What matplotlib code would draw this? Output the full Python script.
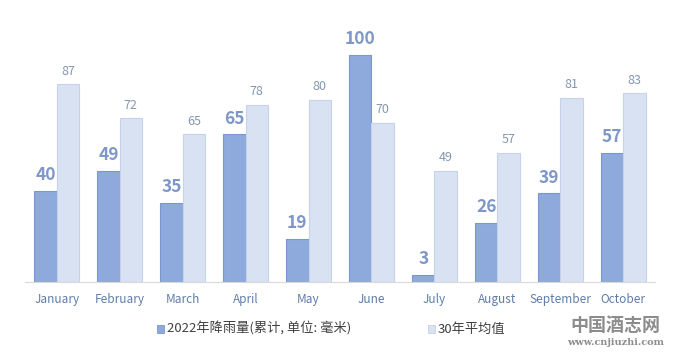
import matplotlib.pyplot as plt
import numpy as np

plt.rcParams['font.family'] = ['Noto Sans CJK SC', 'DejaVu Sans']

# Monthly rainfall, 2022 vs 30-year average (mm)
months = ['January', 'February', 'March', 'April', 'May', 'June',
          'July', 'August', 'September', 'October']
rain_2022 = [40, 49, 35, 65, 19, 100, 3, 26, 39, 57]
rain_avg = [87, 72, 65, 78, 80, 70, 49, 57, 81, 83]

dark = '#8EA9DB'
dark_edge = '#7B97CD'
light = '#D9E2F3'
light_edge = '#C5D2EA'

fig = plt.figure(figsize=(6.8, 3.53), dpi=100)
ax = fig.add_axes([0.037, 0.201, 0.926, 0.708])

x = np.arange(len(months))
w = 0.355
ax.bar(x - w/2, rain_2022, w, color=dark, edgecolor=dark_edge, linewidth=0.8)
ax.bar(x + w/2, rain_avg, w, color=light, edgecolor=light_edge, linewidth=0.8)

for xi, v in zip(x, rain_2022):
    ax.text(xi - w/2, v + 3, str(v), ha='center', va='bottom',
            fontsize=12.5, fontweight='bold', color='#7F97C7')
for xi, v in zip(x, rain_avg):
    ax.text(xi + w/2, v + 3, str(v), ha='center', va='bottom',
            fontsize=9, color='#8497B0')

ax.set_xlim(-0.5, len(months) - 0.5)
ax.set_ylim(0, 110)
ax.set_xticks(x)
ax.set_xticklabels(months, fontsize=8.5, color='#5F7CA8')
ax.tick_params(axis='x', length=0, pad=8)
ax.set_yticks([])
for s in ['top', 'right', 'left']:
    ax.spines[s].set_visible(False)
ax.spines['bottom'].set_color('#D9D9D9')

# legend drawn by hand to match spacing
fig.text(0.245, 0.068, '2022年降雨量(累计, 单位: 毫米)', fontsize=9.5,
         color='#404040', va='center', ha='left')
fig.patches.append(plt.Rectangle((0.2455 - 0.014, 0.058), 0.010, 0.022,
                                 transform=fig.transFigure, facecolor=dark,
                                 edgecolor=dark_edge, linewidth=0.6))
fig.text(0.643, 0.068, '30年平均值', fontsize=9.5, color='#404040',
         va='center', ha='left')
fig.patches.append(plt.Rectangle((0.643 - 0.014, 0.058), 0.010, 0.022,
                                 transform=fig.transFigure, facecolor=light,
                                 edgecolor=light_edge, linewidth=0.6))

# watermark
fig.text(0.905, 0.078, '中国酒志网', fontsize=13, color='#8C8C8C',
         ha='center', va='center', fontweight='bold')
fig.text(0.905, 0.031, 'www.cnjiuzhi.com', fontsize=7, color='#8C8C8C',
         ha='center', va='center', fontweight='bold', family='DejaVu Serif')

fig.savefig('out.png', dpi=100)
